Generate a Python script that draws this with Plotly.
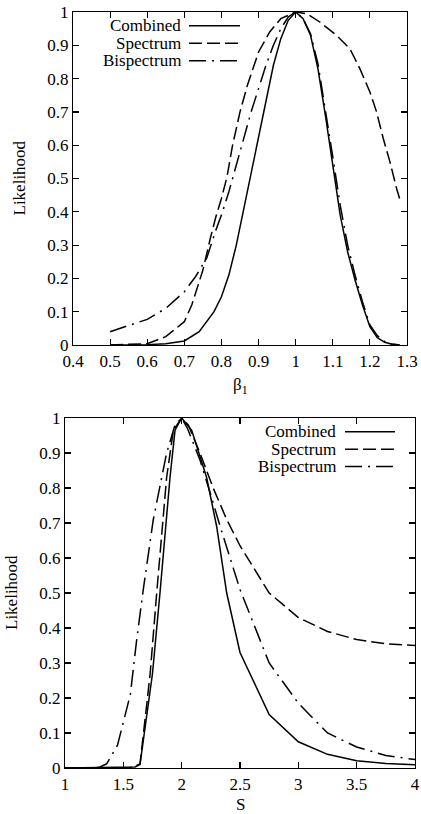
import plotly.graph_objects as go

# ---------------- data ----------------
series_names = ["Combined", "Spectrum", "Bispectrum"]

# Top panel: likelihood vs beta_1
beta_combined = [0.50, 0.60, 0.65, 0.70, 0.74, 0.78, 0.80, 0.82, 0.84, 0.86, 0.88, 0.90, 0.92,
                 0.94, 0.96, 0.98, 1.00, 1.02, 1.04, 1.06, 1.08, 1.10, 1.12, 1.14, 1.16, 1.18,
                 1.20, 1.22, 1.24, 1.26, 1.28]
like_beta_combined = [0.000, 0.001, 0.004, 0.012, 0.040, 0.100, 0.145, 0.210, 0.300, 0.410, 0.520,
                      0.630, 0.740, 0.840, 0.920, 0.975, 1.000, 0.980, 0.930, 0.830, 0.690, 0.540,
                      0.390, 0.280, 0.195, 0.120, 0.055, 0.022, 0.008, 0.002, 0.000]

beta_spectrum = [0.50, 0.55, 0.60, 0.65, 0.70, 0.72, 0.75, 0.77, 0.785, 0.80, 0.815, 0.83, 0.85,
                 0.87, 0.90, 0.93, 0.96, 1.00, 1.03, 1.065, 1.11, 1.146, 1.173, 1.20, 1.218,
                 1.236, 1.254, 1.272, 1.28]
like_beta_spectrum = [0.000, 0.001, 0.004, 0.025, 0.070, 0.120, 0.225, 0.320, 0.385, 0.440, 0.505,
                      0.600, 0.700, 0.780, 0.880, 0.940, 0.980, 1.000, 0.995, 0.970, 0.930, 0.890,
                      0.830, 0.760, 0.700, 0.620, 0.550, 0.470, 0.440]

beta_bispectrum = [0.50, 0.55, 0.60, 0.65, 0.70, 0.73, 0.76, 0.785, 0.80, 0.82, 0.84, 0.86, 0.88,
                   0.90, 0.92, 0.94, 0.96, 0.98, 1.00, 1.02, 1.04, 1.06, 1.08, 1.10, 1.12, 1.14,
                   1.16, 1.18, 1.20, 1.22, 1.24, 1.26, 1.28]
like_beta_bispectrum = [0.040, 0.058, 0.077, 0.110, 0.160, 0.205, 0.260, 0.345, 0.390, 0.460, 0.540,
                        0.620, 0.700, 0.770, 0.840, 0.900, 0.950, 0.985, 1.000, 0.980, 0.935, 0.845,
                        0.710, 0.565, 0.420, 0.300, 0.210, 0.130, 0.060, 0.028, 0.010, 0.003, 0.000]

# Bottom panel: likelihood vs S
s_combined = [1.0, 1.6, 1.643, 1.70, 1.75, 1.814, 1.86, 1.90, 1.943, 2.0, 2.086, 2.15, 2.214,
              2.30, 2.386, 2.5, 2.75, 3.0, 3.25, 3.5, 3.75, 4.0]
like_s_combined = [0.0, 0.003, 0.010, 0.150, 0.270, 0.500, 0.680, 0.830, 0.965, 1.000, 0.965, 0.900,
                   0.830, 0.690, 0.500, 0.330, 0.153, 0.075, 0.039, 0.021, 0.013, 0.009]

s_spectrum = [1.0, 1.55, 1.6, 1.643, 1.70, 1.73, 1.786, 1.83, 1.871, 1.929, 2.0, 2.057, 2.157,
              2.27, 2.386, 2.5, 2.6, 2.75, 3.0, 3.25, 3.5, 3.75, 4.0]
like_s_spectrum = [0.0, 0.0, 0.005, 0.012, 0.180, 0.270, 0.500, 0.670, 0.830, 0.965, 1.000, 0.980,
                   0.900, 0.800, 0.710, 0.635, 0.580, 0.500, 0.430, 0.390, 0.367, 0.355, 0.350]

s_bispectrum = [1.0, 1.25, 1.3, 1.357, 1.45, 1.5, 1.56, 1.614, 1.671, 1.757, 1.82, 1.871, 1.943,
                2.0, 2.05, 2.157, 2.25, 2.33, 2.5, 2.75, 3.0, 3.25, 3.5, 3.75, 4.0]
like_s_bispectrum = [0.0, 0.0, 0.003, 0.012, 0.065, 0.130, 0.210, 0.365, 0.510, 0.710, 0.820, 0.900,
                     0.980, 1.000, 0.970, 0.880, 0.780, 0.690, 0.510, 0.300, 0.185, 0.100, 0.060,
                     0.036, 0.024]

beta_ticks = [0.4, 0.5, 0.6, 0.7, 0.8, 0.9, 1.0, 1.1, 1.2, 1.3]
s_ticks = [1, 1.5, 2, 2.5, 3, 3.5, 4]
like_ticks = [0, 0.1, 0.2, 0.3, 0.4, 0.5, 0.6, 0.7, 0.8, 0.9, 1.0]

# ---------------- styling ----------------
W, H = 421, 814
FONT = "Liberation Serif, Times New Roman, serif"
FS = 17
dashes = ["solid", "13px,5px", "17px,6px,2px,6px"]
LW = 1.5

top_x = [beta_combined, beta_spectrum, beta_bispectrum]
top_y = [like_beta_combined, like_beta_spectrum, like_beta_bispectrum]
bot_x = [s_combined, s_spectrum, s_bispectrum]
bot_y = [like_s_combined, like_s_spectrum, like_s_bispectrum]

fig = go.Figure()
for i, name in enumerate(series_names):
    fig.add_trace(go.Scatter(x=top_x[i], y=top_y[i], mode="lines", name=name, showlegend=False,
                             line=dict(color="black", width=LW, dash=dashes[i]),
                             xaxis="x", yaxis="y"))
for i, name in enumerate(series_names):
    fig.add_trace(go.Scatter(x=bot_x[i], y=bot_y[i], mode="lines", name=name, showlegend=False,
                             line=dict(color="black", width=LW, dash=dashes[i]),
                             xaxis="x2", yaxis="y2"))

def px_x(p):
    return p / W

def px_y(p):
    return 1 - p / H

# plot areas in pixels
top_box = (73, 407, 12, 345)
bot_box = (65, 415, 418, 768)

axis_common = dict(showline=True, linecolor="black", linewidth=1.2, mirror="ticks",
                   ticks="inside", ticklen=6, tickwidth=1.2, tickcolor="black",
                   showgrid=False, zeroline=False, automargin=False,
                   tickfont=dict(family=FONT, size=FS, color="black"))

fig.update_layout(
    template="none",
    width=W, height=H, autosize=False,
    margin=dict(l=0, r=0, t=0, b=0, pad=0),
    paper_bgcolor="white", plot_bgcolor="white",
    font=dict(family=FONT, size=FS, color="black"),
    hovermode=False,
    xaxis=dict(domain=[px_x(top_box[0]), px_x(top_box[1])], range=[0.4, 1.3],
               tickvals=beta_ticks, anchor="y", **axis_common),
    yaxis=dict(domain=[px_y(top_box[3]), px_y(top_box[2])], range=[0, 1],
               tickvals=like_ticks, anchor="x", **axis_common),
    xaxis2=dict(domain=[px_x(bot_box[0]), px_x(bot_box[1])], range=[1, 4],
                tickvals=s_ticks, anchor="y2", **axis_common),
    yaxis2=dict(domain=[px_y(bot_box[3]), px_y(bot_box[2])], range=[0, 1],
                tickvals=like_ticks, anchor="x2", **axis_common),
)

annotations = []
shapes = []
txt_font = dict(family=FONT, size=FS, color="black")
# axis titles
annotations.append(dict(text="Likelihood", x=px_x(19), y=px_y((top_box[2] + top_box[3]) / 2),
                        xref="paper", yref="paper", textangle=-90, showarrow=False,
                        xanchor="center", yanchor="middle", font=txt_font))
annotations.append(dict(text="Likelihood", x=px_x(11), y=px_y((bot_box[2] + bot_box[3]) / 2),
                        xref="paper", yref="paper", textangle=-90, showarrow=False,
                        xanchor="center", yanchor="middle", font=txt_font))
annotations.append(dict(text="β<sub>1</sub>", x=px_x((top_box[0] + top_box[1]) / 2), y=px_y(386),
                        xref="paper", yref="paper", showarrow=False,
                        xanchor="center", yanchor="middle", font=txt_font))
annotations.append(dict(text="S", x=px_x((bot_box[0] + bot_box[1]) / 2), y=px_y(804),
                        xref="paper", yref="paper", showarrow=False,
                        xanchor="center", yanchor="middle", font=txt_font))

# legends (text right-aligned, sample line to the right, gnuplot style)
top_leg = dict(text_right=183, sample=(189, 240), rows=[25.7, 43.3, 60.7])
bot_leg = dict(text_right=338, sample=(345, 395), rows=[431.7, 449.3, 466.5])
for leg in (top_leg, bot_leg):
    for i, name in enumerate(series_names):
        yy = leg["rows"][i]
        annotations.append(dict(text=name, x=px_x(leg["text_right"]), y=px_y(yy), xref="paper",
                                yref="paper", xanchor="right", yanchor="middle", showarrow=False,
                                font=txt_font))
        shapes.append(dict(type="line", xref="paper", yref="paper",
                           x0=px_x(leg["sample"][0]), x1=px_x(leg["sample"][1]),
                           y0=px_y(yy), y1=px_y(yy),
                           line=dict(color="black", width=LW, dash=dashes[i])))

fig.update_layout(annotations=annotations, shapes=shapes)
fig.write_html("out.html", config={"displayModeBar": False, "staticPlot": True},
               post_script="document.body.style.margin='0';document.body.style.overflow='hidden';")
